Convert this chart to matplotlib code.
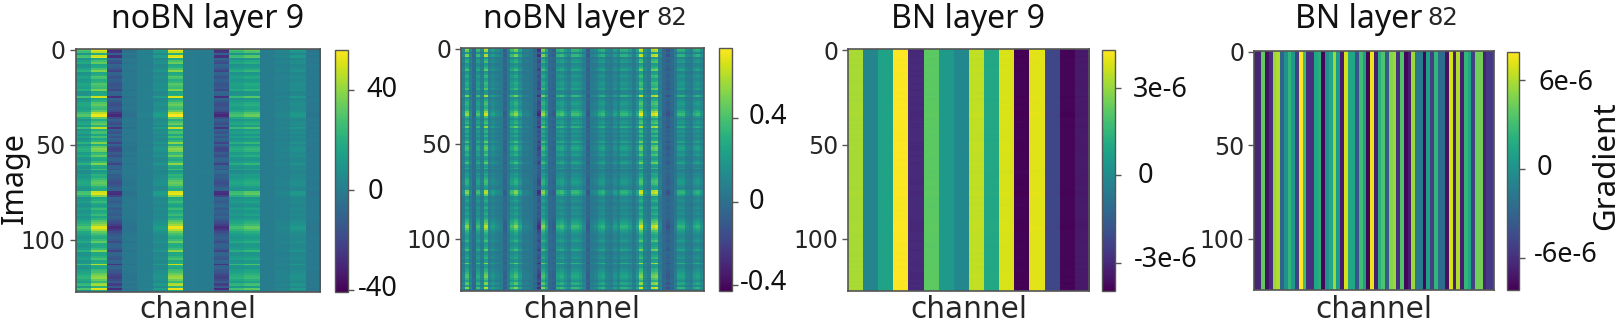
import numpy as np
import matplotlib
matplotlib.use("Agg")
import matplotlib.pyplot as plt

W, H = 1619, 321

# Per-image activity (0..1)
row_activity = [
    .95, .85, .35, .90, .95, .30, .50, .60, .30, .35, .50, .70, .30, .35, .55, .50,
    .35, .40, .55, .50, .45, .65, .30, .30, .35, .90, .30, .40, .55, .60, .50, .45,
    .60, .85, 1.0, 1.0, .60, .35, .50, .60, .40, .85, .35, .50, .50, .30, .50, .30,
    .40, .70, .35, .60, .70, .65, .40, .45, .60, .35, .30, .45, .70, .35, .30, .50,
    .20, .25, .40, .35, .45, .55, .60, .55, .40, .30, .35, .90, .95, .70, .30, .35,
    .45, .30, .25, .35, .45, .30, .35, .45, .30, .40, .55, .65, .75, .95, .95, .80,
    .60, .50, .40, .35, .45, .60, .35, .30, .35, .45, .70, .30, .30, .40, .50, .30,
    .35, .85, .35, .30, .45, .50, .60, .70, .75, .60, .45, .75, .80, .40, .95, .30,
]

# Per-channel values
nobn9_channels = [30, 54, -30, -5, 2, 14, 56, 0, -1, -30, 28, 34, 0, 4, 12, -3]
nobn82_channels = [
    .15, .55, .15, -.05, .40, .15, .65, .15, .25, .15, .10, -.10, .10, .40, .55, .30,
    .10, .10, .05, -.05, -.30, .55, .30, -.05, -.10, .35, .40, .25, .15, .38, .38, .30,
    .15, -.12, .10, .15, .30, .35, .15, .10, .25, .15, .35, .35, .25, .10, .30, .70,
    .20, .10, .65, .70, .15, -.05, -.15, -.05, .10, .35, .35, .15, .10, .30, .35, .20,
]
bn9_channels = [3.2, -.2, .8, 4.25, -3.0, 2.2, .5, -.1, 3.5, 1.0, 3.8, -3.9, 3.9, -2.2, -3.85, -3.4]
bn82_channels = [
    -6.5, -6.5, 4, -7.5, -6, 5.5, 6, -3, 0, 2.5, .5, -5, 8, 3, -6, -6,
    1.5, 2, -8, 0, 1.5, 5.5, .5, -7, 7, 1.5, 1.5, -4, 3, 1, -8, 7.5,
    -7, 2, 3.5, -3.5, 5, 5.5, -6, 3.5, -8, -7, 5.5, -1.5, -1.5, -8, 1, -5,
    2.5, -2.5, -2.5, -7.5, 7, -7, 6, -7, 2.5, 1.5, -5, 4.5, 4.5, -6.5, -5.5, -5.5,
]

image_ticks = [0, 50, 100]
nobn9_cticks, nobn9_clabels = [-40, 0, 40], ["-40", "0", "40"]
nobn82_cticks, nobn82_clabels = [-.4, 0, .4], ["-0.4", "0", "0.4"]
bn9_cticks, bn9_clabels = [-3e-6, 0, 3e-6], ["-3e-6", "0", "3e-6"]
bn82_cticks, bn82_clabels = [-6e-6, 0, 6e-6], ["-6e-6", "0", "6e-6"]

act = np.array(row_activity)
m1 = np.outer(act, nobn9_channels)
m2 = np.outer(act, nobn82_channels)
m3 = np.outer(1 + .03 * (act - .5), bn9_channels) * 1e-6
m4 = np.outer(np.ones_like(act), bn82_channels) * 1e-6

panels = [
    dict(m=m1, ax=(75.5, 319.5, 49, 292), cax=(334.5, 347.5, 49.5, 291.5), lim=(-40.7, 56),
         ticks=nobn9_cticks, labels=nobn9_clabels,
         lx=[358, 367.5, 366.5], ly=[289, 192, 90]),
    dict(m=m2, ax=(461, 703.7, 48, 290.7), cax=(719, 731.7, 48, 291), lim=(-.427, .736),
         ticks=nobn82_cticks, labels=nobn82_clabels,
         lx=[740, 749, 749], ly=[283, 202, 117]),
    dict(m=m3, ax=(848.3, 1089.3, 49.3, 290.7), cax=(1102.3, 1115, 50, 291), lim=(-3.97e-6, 4.29e-6),
         ticks=bn9_cticks, labels=bn9_clabels,
         lx=[1134, 1137.5, 1133], ly=[260, 176, 90]),
    dict(m=m4, ax=(1254.3, 1494, 51, 290), cax=(1506.7, 1519.3, 51.5, 290), lim=(-8.2e-6, 7.95e-6),
         ticks=bn82_cticks, labels=bn82_clabels,
         lx=[1534, 1537, 1538], ly=[255, 168, 83]),
]

NS = "Noto Sans"
SP = "#555555"
fig = plt.figure(figsize=(W / 100, H / 100), dpi=100)


def rect(l, r, t, b):
    return [l / W, 1 - b / H, (r - l) / W, (b - t) / H]


def ftext(x, y, s, **kw):
    return fig.text(x / W, 1 - y / H, s, **kw)


for p in panels:
    ax = fig.add_axes(rect(*p["ax"]))
    im = ax.imshow(p["m"], cmap="viridis", aspect="auto", vmin=p["lim"][0], vmax=p["lim"][1],
                   interpolation="nearest")
    ax.set_xticks([])
    ax.set_yticks(image_ticks)
    ax.tick_params(axis="y", labelsize=17, length=4, width=1, color=SP, labelcolor="#262626", pad=3)
    for s in ax.spines.values():
        s.set_color(SP)
        s.set_linewidth(1.2)
    cax = fig.add_axes(rect(*p["cax"]))
    cb = fig.colorbar(im, cax=cax)
    cb.set_ticks(p["ticks"], labels=[""] * 3)
    cax.tick_params(length=4, width=1, color=SP)
    cb.outline.set_edgecolor(SP)
    cb.outline.set_linewidth(1)
    for lx, ly, s in zip(p["lx"], p["ly"], p["labels"]):
        ftext(lx, ly, s, family=NS, fontsize=19.5, va="center", ha="left", color="#111111")
    cx = (p["ax"][0] + p["ax"][1]) / 2
    ftext(cx, 309, "channel", family="DejaVu Sans", fontsize=21.3, ha="center", va="center", color="#262626")

ts = dict(family=NS, fontsize=23, va="center", color="#111111")
ds = dict(family="DejaVu Sans", fontsize=17.5, va="center", ha="center", color="#262626")
ftext(207.5, 20, "noBN layer 9", ha="center", **ts)
ftext(483, 20, "noBN layer", ha="left", **ts)
ftext(671.5, 18, "82", **ds)
ftext(968, 20, "BN layer 9", ha="center", **ts)
ftext(1295, 20, "BN layer", ha="left", **ts)
ftext(1443, 18, "82", **ds)
ftext(15, 178, "Image", family=NS, fontsize=22, rotation=90, ha="center", va="center", color="#111111")
ftext(1606, 166, "Gradient", family=NS, fontsize=22.5, rotation=90, ha="center", va="center", color="#111111")

fig.savefig("out.png", dpi=100)
